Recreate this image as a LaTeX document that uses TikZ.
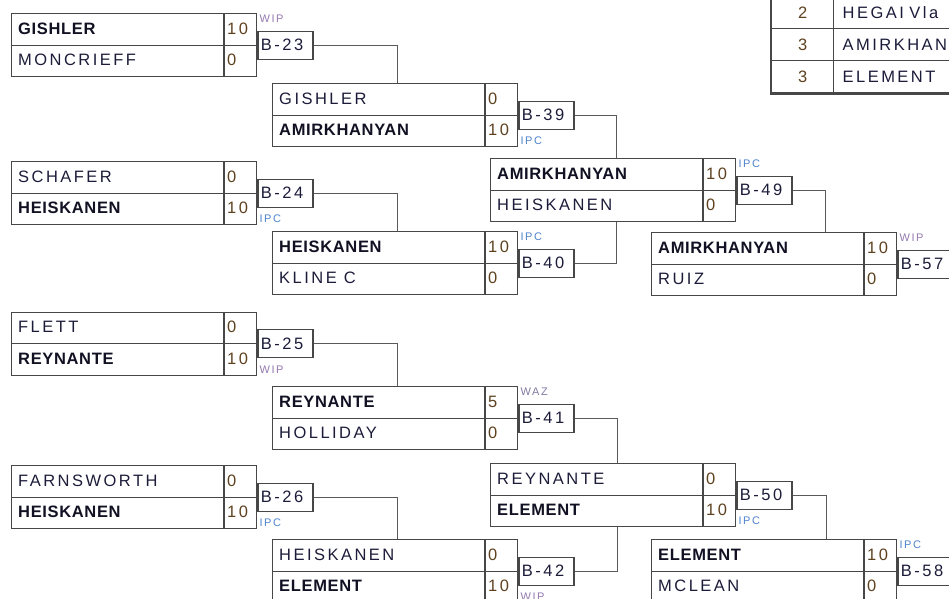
\documentclass[tikz,border=0pt]{standalone}
\usepackage{fontspec}
\usepackage{tikz}
\usetikzlibrary{positioning,calc}
\newfontfamily\losefont[LetterSpace=15]{Liberation Sans}
\newfontfamily\winfont[LetterSpace=4]{Liberation Sans}
\newfontfamily\smallfont[LetterSpace=15]{Liberation Sans}
\definecolor{boxline}{HTML}{474747}
\definecolor{linkline}{HTML}{5A5A5A}
\definecolor{namecol}{HTML}{1C1C3A}
\definecolor{scorecol}{HTML}{5E4220}
\definecolor{wipcol}{HTML}{9479B0}
\definecolor{ipccol}{HTML}{4F83CC}
\definecolor{wazcol}{HTML}{8379A3}

\begin{document}
\begin{tikzpicture}[x=1pt, y=-1pt,
  matchbox/.style={draw=boxline, line width=1.3pt, minimum width=245pt, minimum height=63pt, inner sep=0pt, anchor=north west},
  boutbox/.style={draw=boxline, line width=1.3pt, minimum width=55pt, minimum height=28pt, inner xsep=3pt, inner ysep=0pt,
    text width=49pt, align=left, anchor=west, font=\fontsize{16.5}{16.5}\losefont, text=namecol},
  win/.style={anchor=west, inner sep=0pt, font=\fontsize{16.5}{16.5}\winfont\bfseries, text=namecol!60!black},
  lose/.style={anchor=west, inner sep=0pt, font=\fontsize{16.5}{16.5}\losefont, text=namecol},
  score/.style={anchor=west, inner sep=0pt, font=\fontsize{16.5}{16.5}\losefont, text=scorecol},
  wintype/.style={anchor=west, inner sep=0pt, font=\fontsize{11}{11}\smallfont},
  WIP/.style={text=wipcol}, IPC/.style={text=ipccol}, WAZ/.style={text=wazcol},
  link/.style={draw=linkline, line width=0.9pt},
  cell/.style={draw=boxline, line width=1.3pt, minimum height=32pt, inner sep=0pt, anchor=north west,
    font=\fontsize{16.5}{16.5}\losefont, text=namecol}
]
  \useasboundingbox (0,0) rectangle (949,598);
  \clip (0,0) rectangle (949,598);

  % id / left / top / top name / score / bottom name / score / winner / win type
  \foreach \id/\x/\y/\na/\sa/\nb/\sb/\w/\wt in {
    23/11/13/GISHLER/10/MONCRIEFF/0/1/WIP,
    24/11/161/SCHAFER/0/HEISKANEN/10/2/IPC,
    25/11/311.5/FLETT/0/REYNANTE/10/2/WIP,
    26/11/465/FARNSWORTH/0/HEISKANEN/10/2/IPC,
    39/272/83/GISHLER/0/AMIRKHANYAN/10/2/IPC,
    40/272/231/HEISKANEN/10/KLINE C/0/1/IPC,
    41/272/386/REYNANTE/5/HOLLIDAY/0/1/WAZ,
    42/272/539/HEISKANEN/0/ELEMENT/10/2/WIP,
    49/490/158/AMIRKHANYAN/10/HEISKANEN/0/1/IPC,
    50/490/463/REYNANTE/0/ELEMENT/10/2/IPC,
    57/651/232/AMIRKHANYAN/10/RUIZ/0/1/WIP,
    58/651/539/ELEMENT/10/MCLEAN/0/1/IPC} {
    \ifnum\w=1\relax \def\ta{win}\def\tb{lose}\def\off{-26}\else \def\ta{lose}\def\tb{win}\def\off{26}\fi
    \node[matchbox] (m\id) at (\x,\y) {};
    \draw[boxline, line width=1.3pt] (m\id.west) -- (m\id.east);
    \draw[boxline, line width=1.3pt] ($(m\id.north west)+(213,0)$) -- ($(m\id.south west)+(213,0)$);
    \node[\ta] (ta\id) at (\x+7,\y+15.75) {\na};
    \node[\tb] (tb\id) at (\x+7,\y+47.25) {\nb};
    \node[score] (sa\id) at (\x+216,\y+15.75) {\sa};
    \node[score] (sb\id) at (\x+216,\y+47.25) {\sb};
    \node[boutbox] (b\id) at (m\id.east) {B-\id};
    \node[wintype, \wt] (w\id) at ($(b\id.west)+(2,\off)$) {\wt};
  }

  \foreach \from/\to/\dx/\side in {23/39/125/north west, 24/40/125/north west, 25/41/125/north west,
    26/42/125/north west, 39/49/126/north west, 40/49/126/south west, 41/50/127/north west,
    42/50/127/south west, 49/57/174/north west, 50/58/175/north west} {
    \draw[link] (b\from.east) -| ($(m\to.\side)+(\dx,0)$);
  }

  % standings
  \foreach \r/\rank/\nm in {1/2/HEGAI Vla, 2/3/AMIRKHAN, 3/3/ELEMENT} {
    \node[cell, minimum width=62pt, text=scorecol] (rk\r) at (771,{-4+32*(\r-1)}) {\rank};
    \node[cell, minimum width=200pt, inner xsep=9pt, text width=182pt, align=left] (nm\r) at (833,{-4+32*(\r-1)}) {\nm};
  }
  \draw[boxline, line width=2.4pt] (rk1.north west) -- (rk3.south west) -- (nm3.south east);
\end{tikzpicture}
\end{document}
